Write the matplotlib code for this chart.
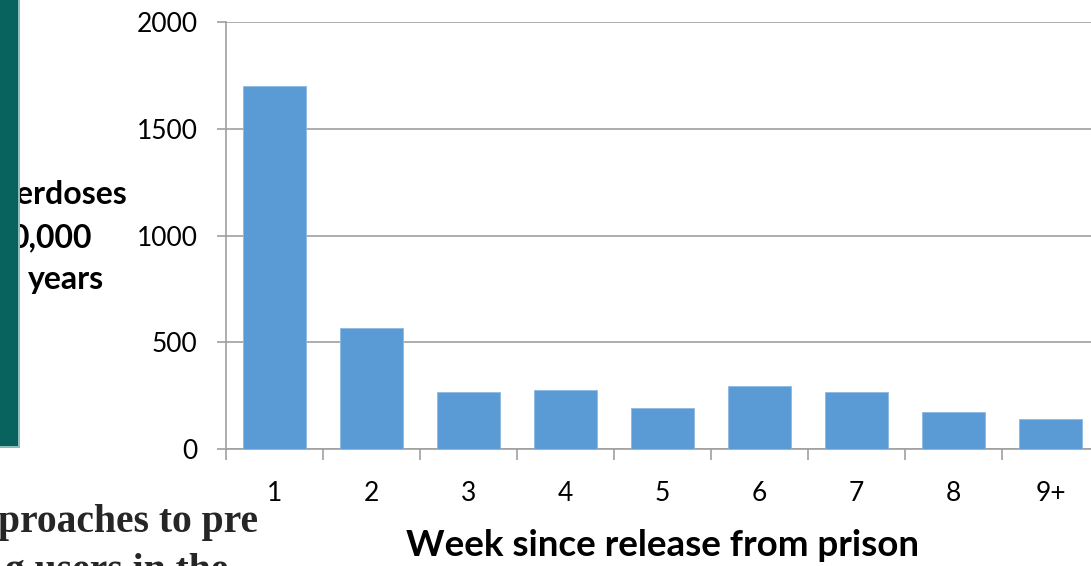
import matplotlib
matplotlib.use("Agg")
import matplotlib.pyplot as plt
from matplotlib.patches import Rectangle

weeks = ["1", "2", "3", "4", "5", "6", "7", "8", "9+"]
overdose_rates = [1700, 567, 267, 276, 192, 295, 267, 173, 140]
y_ticks = [0, 500, 1000, 1500, 2000]

BAR = "#5B9BD5"
GRID = "#A0A0A0"
TEAL = "#08635F"

fig = plt.figure(figsize=(10.91, 5.66), dpi=100)
ax = fig.add_axes([226 / 1091, 1 - 449 / 566, 873 / 1091, 427 / 566])

x = list(range(len(weeks)))
ax.bar(x, overdose_rates, width=0.64, color=BAR, edgecolor="#8DB9E2",
       linewidth=0.6, zorder=3)

ax.set_xlim(-0.5, len(weeks) - 0.5)
ax.set_ylim(0, 2000)
ax.set_yticks(y_ticks)
ax.set_yticklabels([str(v) for v in y_ticks], fontfamily="Lato", fontsize=19)
ax.yaxis.grid(True, color=GRID, linewidth=1.2, zorder=0)
ax.tick_params(axis="y", length=6.5, width=1.2, color=GRID, pad=14)

# category boundaries carry the tick marks, labels sit at the centres
ax.set_xticks([i - 0.5 for i in range(len(weeks) + 1)])
ax.set_xticklabels([])
ax.tick_params(axis="x", which="major", length=8, width=1.2, color=GRID)
ax.set_xticks(x, minor=True)
ax.set_xticklabels(weeks, minor=True, fontfamily="Lato", fontsize=19)
ax.tick_params(axis="x", which="minor", length=0, pad=23)

for side in ("top", "right"):
    ax.spines[side].set_visible(False)
for side in ("left", "bottom"):
    ax.spines[side].set_color(GRID)
    ax.spines[side].set_linewidth(1.2)

fig.text(663 / 1091, 1 - 545 / 566, "Week since release from prison",
         ha="center", va="center", fontfamily="Lato", fontweight="bold",
         fontsize=26.5)

# y-axis caption, visible part beside the side panel
cap = dict(va="center", ha="right", fontfamily="Lato", fontweight="bold",
           fontsize=23)
fig.text(127 / 1091, 1 - 195 / 566, "erdoses", **cap)
fig.text(92 / 1091, 1 - 238 / 566, "0,000", **cap)
fig.text(104 / 1091, 1 - 279 / 566, "years", **cap)

# side panel
fig.patches.append(Rectangle((0, 1 - 446 / 566), 18 / 1091, 446 / 566,
                             transform=fig.transFigure, facecolor=TEAL,
                             edgecolor="none", zorder=5))
fig.patches.append(Rectangle((18 / 1091, 1 - 447 / 566), 2 / 1091, 447 / 566,
                             transform=fig.transFigure, facecolor="#8CBDBA",
                             edgecolor="none", zorder=5))
fig.patches.append(Rectangle((0, 1 - 448 / 566), 20 / 1091, 2 / 566,
                             transform=fig.transFigure, facecolor="#8CBDBA",
                             edgecolor="none", zorder=5))

# slide body text below the chart
body = dict(ha="right", va="baseline", fontfamily="Liberation Serif",
            fontweight="bold", fontsize=28.5, color="#262626")
fig.text(258 / 1091, 1 - 532 / 566, "proaches to pre", **body)
fig.text(228 / 1091, 1 - 581 / 566, "g users in the", **body)

fig.savefig("out.png", dpi=100)
